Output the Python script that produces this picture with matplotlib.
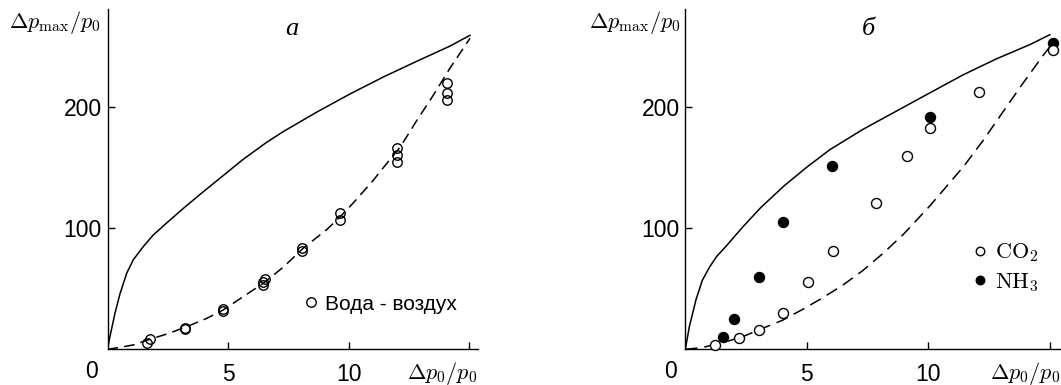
import matplotlib
matplotlib.use("Agg")
import matplotlib.pyplot as plt

# ---------------- data ----------------
# panel a: theoretical curves
a_solid_x = [0, 0.1, 0.31, 0.52, 0.8, 1.07, 1.49, 1.9, 2.46, 3.15, 3.84, 4.95,
             5.63, 6.6, 7.3, 8.68, 10.06, 11.44, 12.83, 14.2, 15.04]
a_solid_y = [0, 10.4, 29.8, 46, 63, 74, 85, 94.5, 104.5, 116.5, 128, 146,
             157, 171, 180, 196, 211, 225, 238, 250.5, 259.5]
a_dash_x = [0, 0.52, 1.07, 1.76, 2.46, 3.29, 4.12, 4.8, 5.63, 6.46, 7.3, 8.12,
            9.1, 9.63, 10.2, 11.0, 11.44, 12.14, 12.83, 13.52, 14.2, 15.04]
a_dash_y = [0, 1.6, 3.6, 8.3, 12.6, 18.7, 25.6, 32.5, 43.5, 54.5, 68, 83.5,
            99, 109, 121, 139, 150, 167, 189, 210, 232, 257]
# panel a: water-air data
a_pts_x = [1.63, 1.76, 3.2, 3.2, 4.8, 4.8, 6.44, 6.47, 6.53, 8.06, 8.06,
           9.63, 9.65, 12.0, 12.0, 12.0, 14.07, 14.07, 14.07]
a_pts_y = [5.5, 8.3, 16.5, 18, 31.6, 33.5, 53, 56, 58, 81.5, 83.5,
           107, 113, 155, 160.5, 166, 206, 212, 220]

# panel b: theoretical curves
b_solid_x = [0, 0.17, 0.44, 0.7, 1.0, 1.3, 1.67, 2.36, 3.1, 4.06, 5.03, 5.95,
             7.33, 8.7, 10.07, 11.45, 12.8, 14.2, 15.0]
b_solid_y = [0, 19, 41, 57, 68, 77, 85, 101, 117, 135, 151, 165,
             182, 197, 212, 227, 240, 252, 260]
b_dash_x = [0, 0.4, 0.85, 1.67, 2.36, 3.18, 4.0, 4.83, 5.65, 6.48, 7.3, 8.12,
            8.95, 10.04, 11.45, 12.27, 13.1, 13.9, 14.73, 15.08]
b_dash_y = [0, 0.8, 2.2, 6.3, 10.4, 17.3, 24, 33, 42.5, 53, 65, 79,
            94.5, 118, 151, 173, 197, 220, 243, 252]
# panel b: data
co2_x = [1.22, 2.22, 3.02, 4.0, 5.05, 6.07, 7.85, 9.11, 10.07, 12.1, 15.12]
co2_y = [3.6, 9.6, 16, 30.3, 55.4, 81, 121, 160, 183, 213, 247]
nh3_x = [1.54, 2.02, 3.02, 4.0, 6.04, 10.07, 15.12]
nh3_y = [10.4, 25, 60, 105.5, 151.7, 192, 253]

x_ticks = [5, 10, 15]
x_ticklabels = ["5", "10", ""]
y_ticks = [100, 200]
y_ticklabels = ["100", "200"]

# ---------------- style ----------------
plt.rcParams["font.family"] = ["Liberation Sans", "DejaVu Sans"]
plt.rcParams["mathtext.fontset"] = "cm"

W, H = 1061, 385
fig = plt.figure(figsize=(W / 100, H / 100), dpi=100)
y0_px, top_px = 349.3, 9.0
ax_a = fig.add_axes([107.5 / W, (H - y0_px) / H, 370 / W, (y0_px - top_px) / H])
ax_b = fig.add_axes([685.3 / W, (H - y0_px) / H, 374.7 / W, (y0_px - top_px) / H])
xmax_a = 370 / 24.1
xmax_b = 374.7 / 24.3
ymax = (y0_px - top_px) / 1.21

ylabel = r"$\Delta p_{\mathrm{max}}/p_0$"
xlabel = r"$\Delta p_0/p_0$"
TICK_FS = 16.5


def style(ax, xmax, title, title_x, ylab_right, zero_x):
    ax.set_xlim(0, xmax)
    ax.set_ylim(0, ymax)
    for s in ("top", "right"):
        ax.spines[s].set_visible(False)
    for s in ("left", "bottom"):
        ax.spines[s].set_linewidth(1.0)
    ax.set_xticks(x_ticks)
    ax.set_xticklabels(x_ticklabels)
    ax.set_yticks(y_ticks)
    ax.set_yticklabels(y_ticklabels)
    ax.tick_params(direction="in", length=5, width=1, labelsize=TICK_FS)
    ax.tick_params(axis="x", pad=10)
    ax.tick_params(axis="y", pad=4)
    ax.text(zero_x, -18, "0", ha="center", va="center", fontsize=TICK_FS)
    ax.text(title_x, 265, title, ha="center", va="center", fontsize=19,
            family="Liberation Serif", style="italic")
    fig.text(ylab_right / W, 1 - 22 / H, ylabel, ha="right", va="center",
             fontsize=16)


dash_a = (0, (7, 4))
dash_b = (0, (8, 4.5))

# panel a
ax_a.plot(a_solid_x, a_solid_y, color="black", lw=1.1)
ax_a.plot(a_dash_x, a_dash_y, color="black", lw=1.1, linestyle=dash_a)
ax_a.plot(a_pts_x, a_pts_y, "o", mfc="none", mec="black", ms=6.8, mew=1.0,
          label="Вода - воздух")
style(ax_a, xmax_a, "a", 7.64, 100, -0.68)
ax_a.text(15.33, -19.6, xlabel, ha="right", va="center", fontsize=16)
ax_a.legend(loc="center left", bbox_to_anchor=(8.0, 37.4),
            bbox_transform=ax_a.transData, frameon=False, fontsize=15,
            handletextpad=0.17, handlelength=1.0, borderaxespad=0, borderpad=0)

# panel b
ax_b.plot(b_solid_x, b_solid_y, color="black", lw=1.1)
ax_b.plot(b_dash_x, b_dash_y, color="black", lw=1.1, linestyle=dash_b)
ax_b.plot(co2_x, co2_y, "o", mfc="white", mec="black", ms=7.2, mew=1.0,
          label=r"$\mathrm{CO_2}$", clip_on=False, zorder=4)
ax_b.plot(nh3_x, nh3_y, "o", mfc="black", mec="black", ms=7.2, mew=1.0,
          label=r"$\mathrm{NH_3}$", clip_on=False, zorder=3)
style(ax_b, xmax_b, "б", 7.53, 680, -0.59)
ax_b.text(15.42, -19.6, xlabel, ha="right", va="center", fontsize=16)
ax_b.legend(loc="center left", bbox_to_anchor=(11.67, 67.6),
            bbox_transform=ax_b.transData, frameon=False, fontsize=16,
            handletextpad=0.17, handlelength=1.0, labelspacing=0.3,
            borderaxespad=0, borderpad=0, markerscale=0.85)

fig.savefig("out.png", dpi=100)
